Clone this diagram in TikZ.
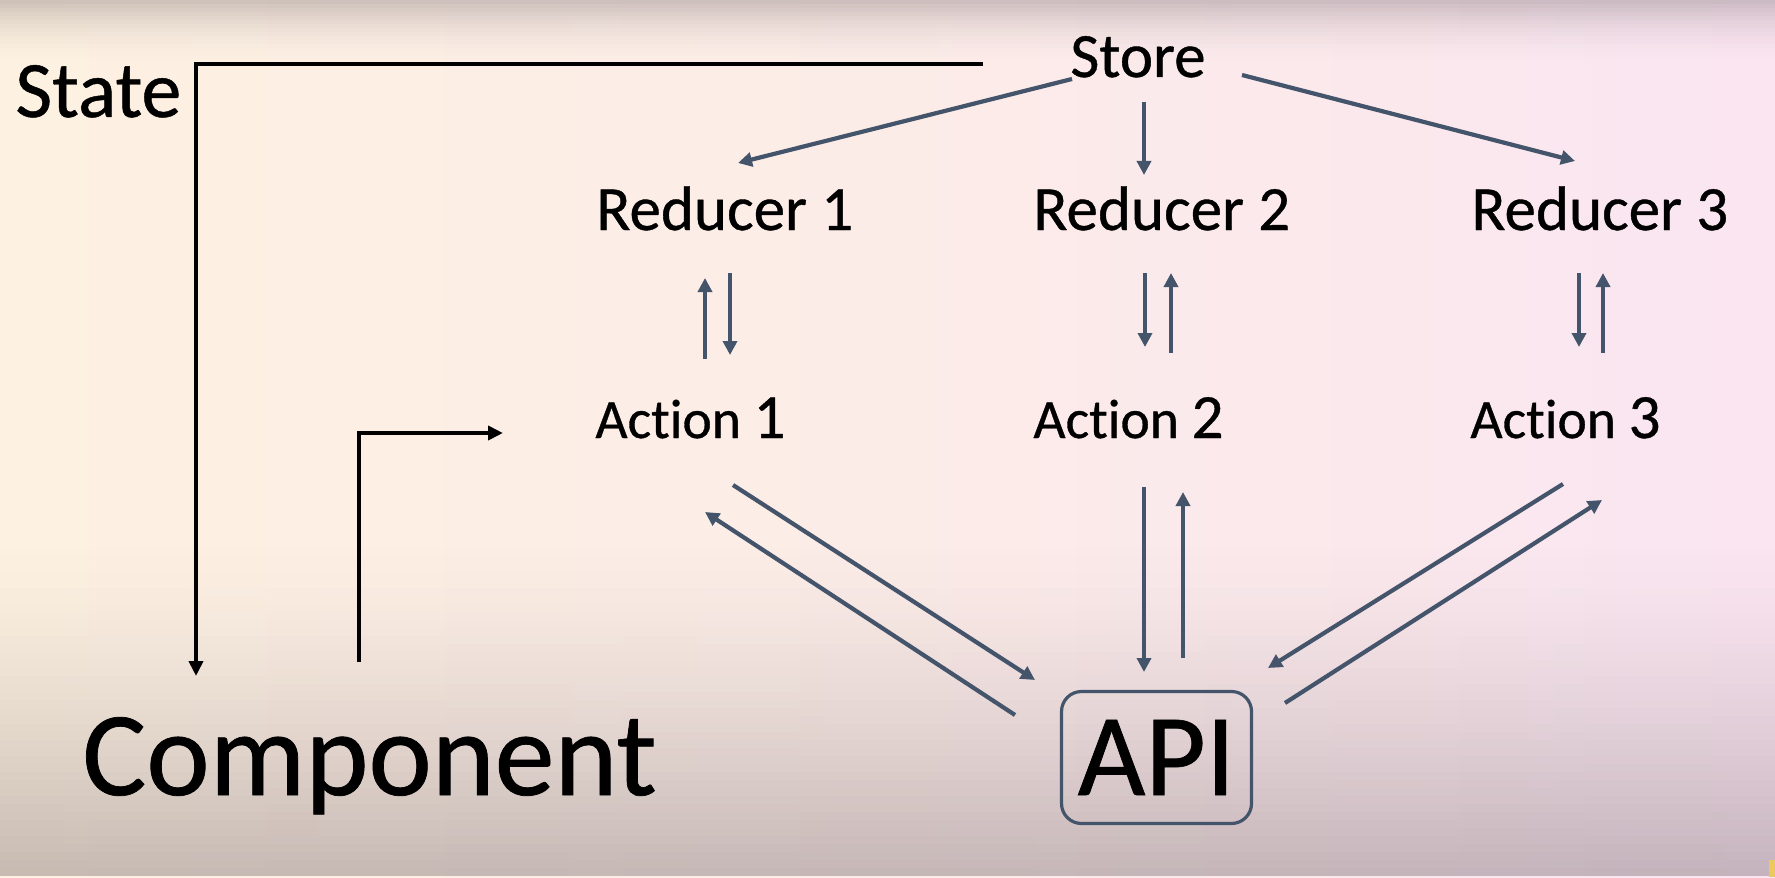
\documentclass[tikz,border=0pt]{standalone}
\usepackage{fontspec}
\setmainfont{Carlito}[FakeBold=0.6, Ligatures=NoCommon]
\usetikzlibrary{arrows.meta}
\definecolor{slate}{RGB}{68,84,106}
\definecolor{cream}{RGB}{253,241,225}
\definecolor{pinkish}{RGB}{250,229,241}
\definecolor{midc}{RGB}{252,236,232}
\definecolor{vig}{RGB}{100,88,94}
\definecolor{ymark}{RGB}{236,200,96}
\begin{document}
\begin{tikzpicture}[x=0.5pt,y=-0.5pt,
  lbl/.style={inner sep=0pt, anchor=base west, text=black},
  mid/.style={font=\fontsize{31.5pt}{34pt}\selectfont},
  act/.style={font=\fontsize{27.8pt}{30pt}\selectfont},
  sarrow/.style={draw=slate, line width=2.1pt, -{Triangle[length=7pt,width=7pt]}},
  barrow/.style={draw=black, line width=2.1pt, -{Triangle[length=7.5pt,width=7pt]}},
]
\useasboundingbox (0,0) rectangle (1775,877);
% background
\shade[left color=cream, right color=pinkish, middle color=midc] (0,0) rectangle (1775,877);
\foreach \i in {0,...,15} {
  \pgfmathsetmacro\op{0.30*(1-\i/16)^2}
  \fill[vig, opacity=\op] (0,\i*4) rectangle (1775,\i*4+4);
}
\foreach \i in {0,...,41} {
  \pgfmathsetmacro\op{0.36*((\i+0.5)/42)^1.4}
  \fill[vig, opacity=\op] (0,540+\i*8) rectangle (1775,548+\i*8);
}
\fill[ymark] (1769,860) rectangle (1775,877);

% texts
\node[lbl, font=\fontsize{40pt}{42pt}\selectfont] (state) at (15,117) {State};
\node[lbl, mid] (store) at (1070,77) {Store};
\node[lbl, mid] (r1) at (596,230) {Reducer 1};
\node[lbl, mid] (r2) at (1033,230) {Reducer 2};
\node[lbl, mid] (r3) at (1471,230) {Reducer 3};
\node[lbl, act] (a1) at (595,438) {Action \fontsize{31.5pt}{34pt}\selectfont 1};
\node[lbl, act] (a2) at (1033,438) {Action \fontsize{31.5pt}{34pt}\selectfont 2};
\node[lbl, act] (a3) at (1470,438) {Action \fontsize{31.5pt}{34pt}\selectfont 3};
\node[lbl, font=\fontsize{60pt}{62pt}\selectfont] (comp) at (82,795) {Component};
\node[draw=slate, line width=1.6pt, rounded corners=10pt, minimum width=95pt,
      minimum height=66pt, inner sep=0pt, text=black,
      font=\fontsize{58.5pt}{62pt}\selectfont] (api) at (1156.5,757.5) {API};

% connector end points
\coordinate (store-state) at (983,64);
\coordinate (state-comp) at (196,676);
\coordinate (comp-out) at (359,662);
\coordinate (a1-in) at (503,433);
\coordinate (store-l) at (1072,79);   \coordinate (r1-top) at (738,163);
\coordinate (store-m) at (1144,102);  \coordinate (r2-top) at (1144,175);
\coordinate (store-r) at (1242,75);   \coordinate (r3-top) at (1575,161);

% State / Component
\draw[barrow] (store-state) -| (state-comp);
\draw[barrow] (comp-out) |- (a1-in);

% Store to reducers
\draw[sarrow] (store-l) -- (r1-top);
\draw[sarrow] (store-m) -- (r2-top);
\draw[sarrow] (store-r) -- (r3-top);

% reducers <-> actions
\coordinate (r1u0) at (705,359); \coordinate (r1u1) at (705,278);
\coordinate (r1d0) at (730,273); \coordinate (r1d1) at (730,355);
\coordinate (r2d0) at (1145,273); \coordinate (r2d1) at (1145,347);
\coordinate (r2u0) at (1171,353); \coordinate (r2u1) at (1171,273);
\coordinate (r3d0) at (1579,273); \coordinate (r3d1) at (1579,347);
\coordinate (r3u0) at (1603,353); \coordinate (r3u1) at (1603,273);
\draw[sarrow] (r1u0) -- (r1u1);
\draw[sarrow] (r1d0) -- (r1d1);
\draw[sarrow] (r2d0) -- (r2d1);
\draw[sarrow] (r2u0) -- (r2u1);
\draw[sarrow] (r3d0) -- (r3d1);
\draw[sarrow] (r3u0) -- (r3u1);

% actions <-> API
\coordinate (a1o0) at (733,485);  \coordinate (a1o1) at (1035,680);
\coordinate (a1r0) at (1015,715); \coordinate (a1r1) at (705,512);
\coordinate (a2d0) at (1144,487); \coordinate (a2d1) at (1144,672);
\coordinate (a2u0) at (1183,658); \coordinate (a2u1) at (1183,492);
\coordinate (a3i0) at (1563,484); \coordinate (a3i1) at (1268,668);
\coordinate (a3o0) at (1285,703); \coordinate (a3o1) at (1602,500);
\draw[sarrow] (a1o0) -- (a1o1);
\draw[sarrow] (a1r0) -- (a1r1);
\draw[sarrow] (a2d0) -- (a2d1);
\draw[sarrow] (a2u0) -- (a2u1);
\draw[sarrow] (a3i0) -- (a3i1);
\draw[sarrow] (a3o0) -- (a3o1);
\end{tikzpicture}
\end{document}
